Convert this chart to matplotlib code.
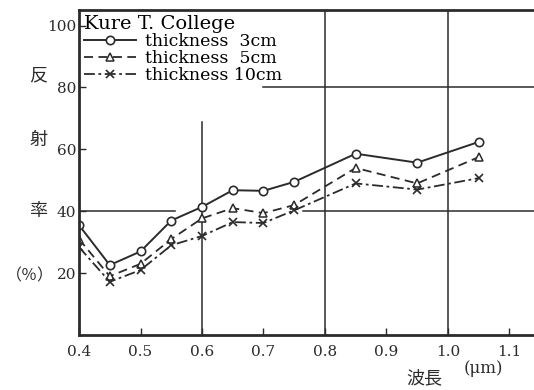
import matplotlib.pyplot as plt

plt.rcParams['font.family'] = ['DejaVu Serif', 'Noto Sans CJK JP']

# データ
wavelength = [0.4, 0.45, 0.5, 0.55, 0.6, 0.65, 0.7, 0.75, 0.85, 0.95, 1.05]
refl_3cm = [35.5, 22.6, 27.0, 37.0, 41.4, 46.8, 46.6, 49.5, 58.6, 55.7, 62.4]
refl_5cm = [31.0, 19.0, 23.0, 31.0, 37.7, 41.0, 39.4, 42.0, 54.0, 49.0, 57.5]
refl_10cm = [28.4, 17.2, 21.0, 29.0, 32.0, 36.5, 36.2, 40.3, 49.0, 47.0, 50.7]

labels = ['thickness  3cm', 'thickness  5cm', 'thickness 10cm']
xticks = [0.4, 0.5, 0.6, 0.7, 0.8, 0.9, 1.0, 1.1]
xticklabels = ['0.4', '0.5', '0.6', '0.7', '0.8', '0.9', '1.0', '1.1']
yticks = [20, 40, 60, 80, 100]
ylabel_chars = ['反', '射', '率', '（％）']

ink = '#2b2b2b'

fig = plt.figure(figsize=(5.34, 3.9), dpi=100)
ax = fig.add_axes([0.148, 0.141, 0.852, 0.833])

ax.plot(wavelength, refl_3cm, '-', color=ink, lw=1.4, marker='o', ms=6,
        mfc='white', mec=ink, mew=1.2, label=labels[0])
ax.plot(wavelength, refl_5cm, color=ink, lw=1.3, ls=(0, (5, 3)), marker='^', ms=6,
        mfc='white', mec=ink, mew=1.1, label=labels[1])
ax.plot(wavelength, refl_10cm, color=ink, lw=1.3, ls=(0, (6, 2, 1.5, 2)), marker='x', ms=6,
        mec=ink, mew=1.2, label=labels[2])

# 部分的な格子線
ax.plot([0.4, 0.556], [40, 40], color=ink, lw=1.1, zorder=0)
ax.plot([0.765, 1.14], [40, 40], color=ink, lw=1.1, zorder=0)
ax.plot([0.7, 1.14], [80, 80], color=ink, lw=1.1, zorder=0)
ax.plot([0.6, 0.6], [0, 69], color=ink, lw=1.1, zorder=0)
ax.plot([0.8, 0.8], [0, 106], color=ink, lw=1.1, zorder=0)
ax.plot([1.0, 1.0], [0, 106], color=ink, lw=1.1, zorder=0)

ax.set_xlim(0.4, 1.14)
ax.set_ylim(0, 105)

ax.set_xticks(xticks)
ax.set_xticklabels(xticklabels)
ax.set_yticks(yticks)
ax.tick_params(direction='in', length=5, width=1, colors=ink, labelsize=11, pad=7)
ax.tick_params(axis='y', pad=2)

for s in ['left', 'bottom', 'top']:
    ax.spines[s].set_linewidth(2)
    ax.spines[s].set_color(ink)
ax.spines['right'].set_visible(False)

leg = ax.legend(loc='upper left', title='Kure T. College', frameon=False,
                fontsize=12.5, title_fontsize=14, handlelength=3.0,
                borderaxespad=0.1, labelspacing=0.0, handletextpad=0.5,
                borderpad=0.2)
leg._legend_box.align = 'left'

# 縦書きの軸ラベル
for ch, yv, xf, fs in zip(ylabel_chars, [84, 63, 40, 19],
                          [0.072, 0.072, 0.072, 0.056], [13, 13, 13, 11.5]):
    fig.text(xf, ax.transData.transform((0.4, yv))[1] / fig.bbox.height, ch,
             ha='center', va='center', fontsize=fs, color=ink,
             family=['Noto Sans CJK JP', 'DejaVu Serif'])

fig.text(0.795, 0.03, '波長', ha='center', va='center', fontsize=13, color=ink,
         family=['Noto Sans CJK JP'])
fig.text(0.905, 0.055, '(μm)', ha='center', va='center', fontsize=12, color=ink)

plt.savefig('out.png', dpi=100)
